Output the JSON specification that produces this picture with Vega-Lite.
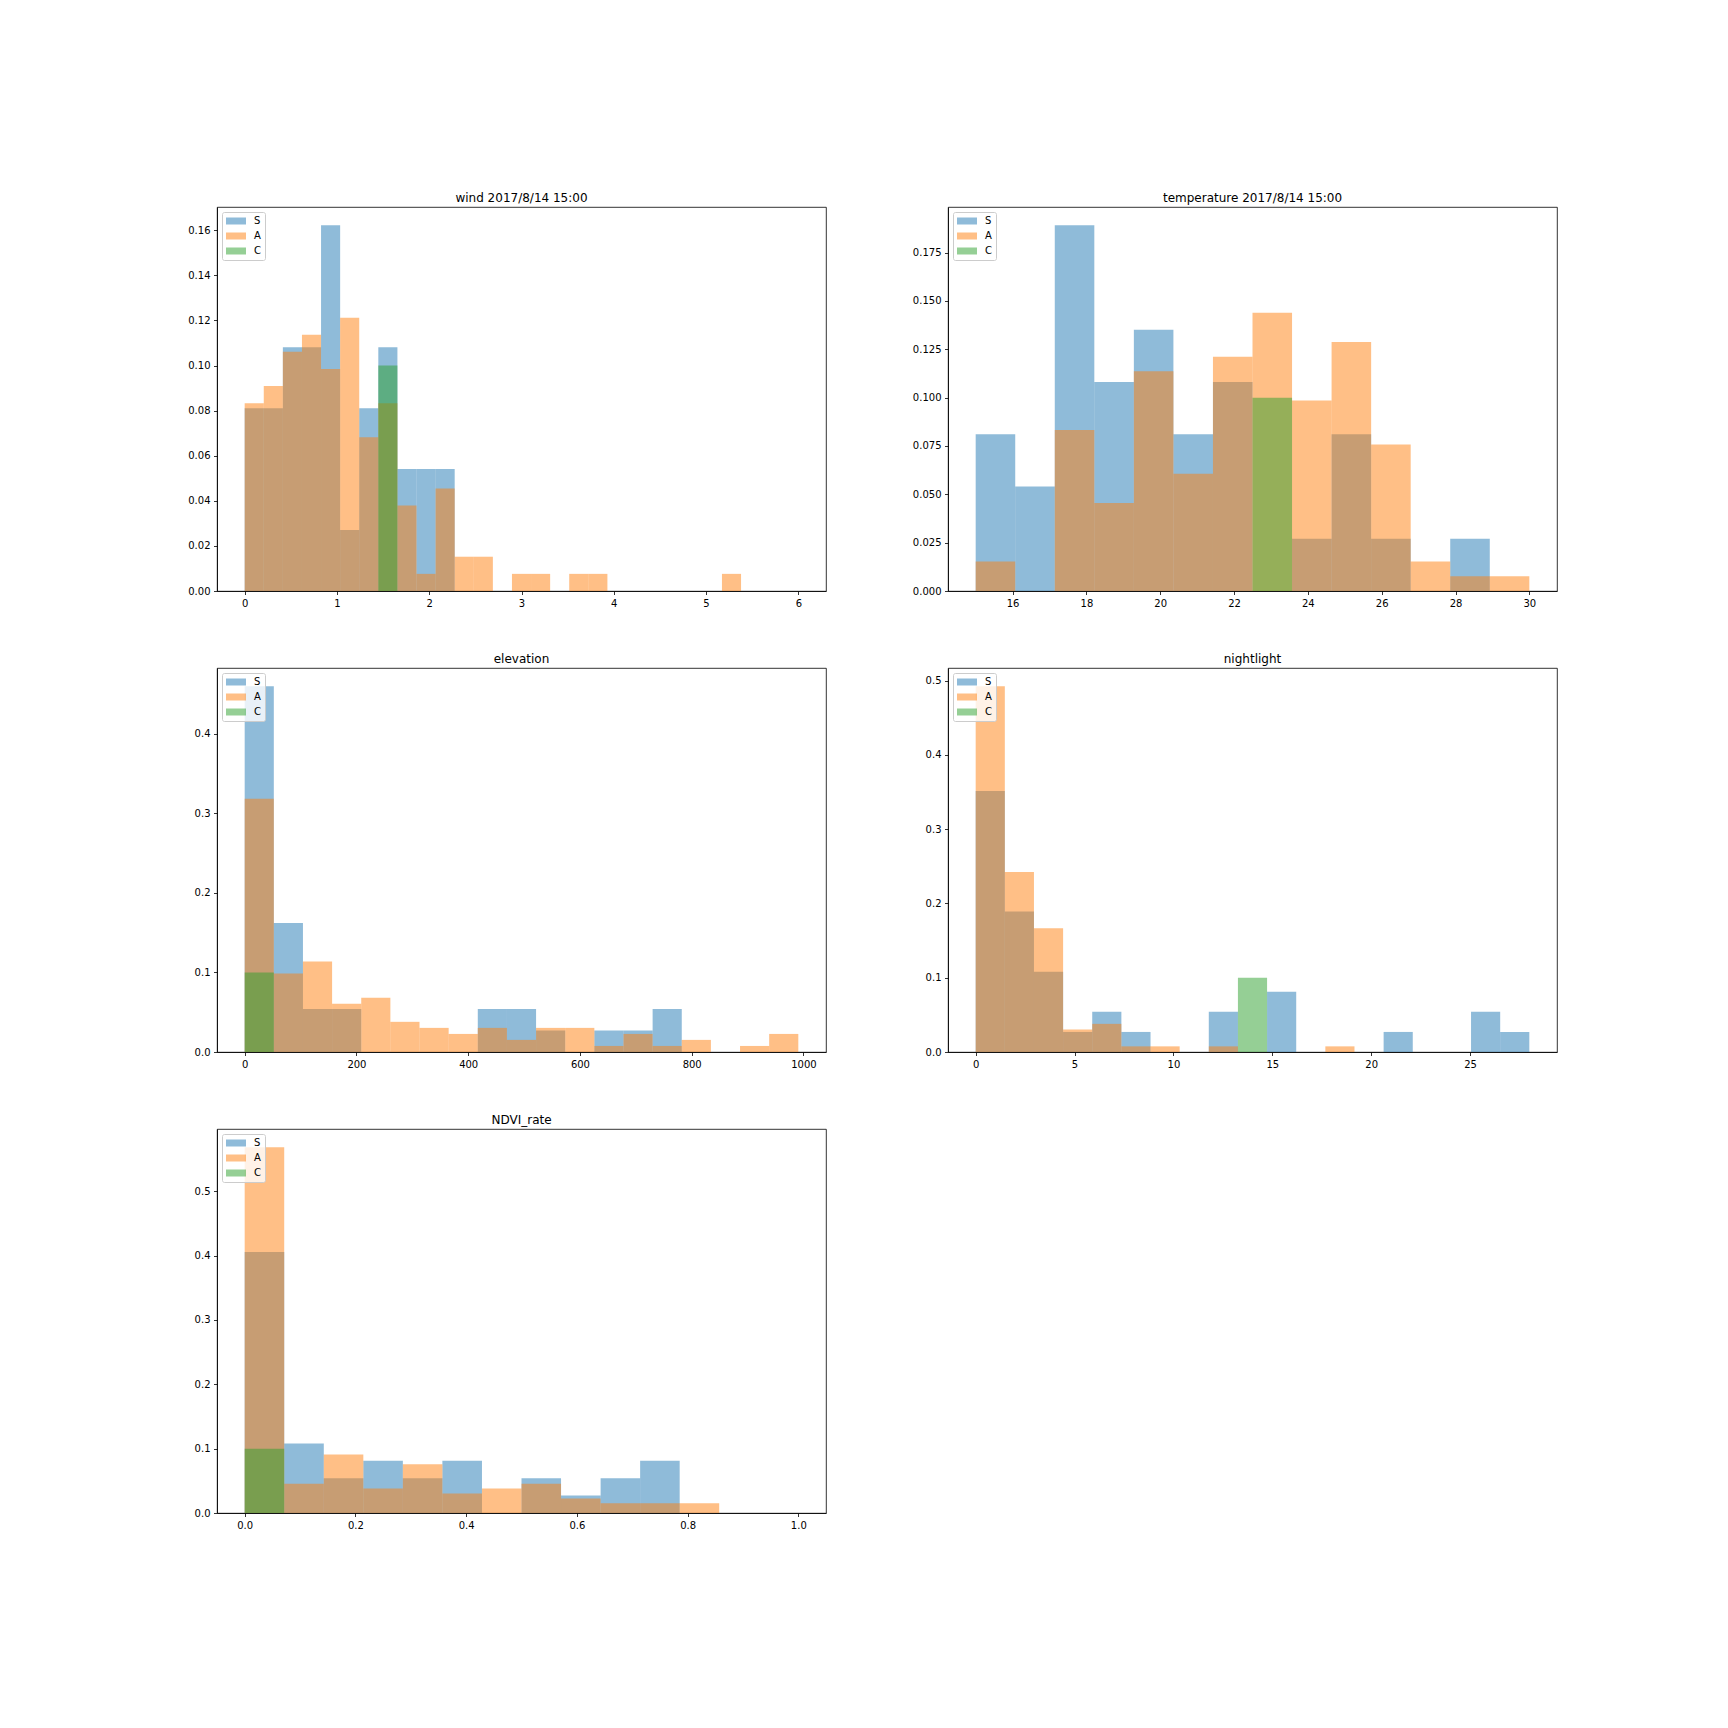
{
  "$schema": "https://vega.github.io/schema/vega-lite/v6.json",
  "background": "white",
  "padding": {"left": 187, "top": 191, "right": 0, "bottom": 0},
  "datasets": {
    "hist": [
      {"panel": "wind", "series": "S", "x0": 0, "x1": 0.2069, "h": 0.0811},
      {"panel": "wind", "series": "S", "x0": 0.2069, "x1": 0.4138, "h": 0.0811},
      {"panel": "wind", "series": "S", "x0": 0.4138, "x1": 0.6207, "h": 0.1081},
      {"panel": "wind", "series": "S", "x0": 0.6207, "x1": 0.8276, "h": 0.1081},
      {"panel": "wind", "series": "S", "x0": 0.8276, "x1": 1.0345, "h": 0.1622},
      {"panel": "wind", "series": "S", "x0": 1.0345, "x1": 1.2414, "h": 0.027},
      {"panel": "wind", "series": "S", "x0": 1.2414, "x1": 1.4483, "h": 0.0811},
      {"panel": "wind", "series": "S", "x0": 1.4483, "x1": 1.6552, "h": 0.1081},
      {"panel": "wind", "series": "S", "x0": 1.6552, "x1": 1.8621, "h": 0.0541},
      {"panel": "wind", "series": "S", "x0": 1.8621, "x1": 2.069, "h": 0.0541},
      {"panel": "wind", "series": "S", "x0": 2.069, "x1": 2.2759, "h": 0.0541},
      {"panel": "wind", "series": "A", "x0": 0, "x1": 0.2069, "h": 0.0833},
      {"panel": "wind", "series": "A", "x0": 0.2069, "x1": 0.4138, "h": 0.0909},
      {"panel": "wind", "series": "A", "x0": 0.4138, "x1": 0.6207, "h": 0.1061},
      {"panel": "wind", "series": "A", "x0": 0.6207, "x1": 0.8276, "h": 0.1136},
      {"panel": "wind", "series": "A", "x0": 0.8276, "x1": 1.0345, "h": 0.0985},
      {"panel": "wind", "series": "A", "x0": 1.0345, "x1": 1.2414, "h": 0.1212},
      {"panel": "wind", "series": "A", "x0": 1.2414, "x1": 1.4483, "h": 0.0682},
      {"panel": "wind", "series": "A", "x0": 1.4483, "x1": 1.6552, "h": 0.0833},
      {"panel": "wind", "series": "A", "x0": 1.6552, "x1": 1.8621, "h": 0.0379},
      {"panel": "wind", "series": "A", "x0": 1.8621, "x1": 2.069, "h": 0.0076},
      {"panel": "wind", "series": "A", "x0": 2.069, "x1": 2.2759, "h": 0.0455},
      {"panel": "wind", "series": "A", "x0": 2.2759, "x1": 2.4828, "h": 0.0152},
      {"panel": "wind", "series": "A", "x0": 2.4828, "x1": 2.6897, "h": 0.0152},
      {"panel": "wind", "series": "A", "x0": 2.8966, "x1": 3.1034, "h": 0.0076},
      {"panel": "wind", "series": "A", "x0": 3.1034, "x1": 3.3103, "h": 0.0076},
      {"panel": "wind", "series": "A", "x0": 3.5172, "x1": 3.7241, "h": 0.0076},
      {"panel": "wind", "series": "A", "x0": 3.7241, "x1": 3.931, "h": 0.0076},
      {"panel": "wind", "series": "A", "x0": 5.1724, "x1": 5.3793, "h": 0.0076},
      {"panel": "wind", "series": "C", "x0": 1.4483, "x1": 1.6552, "h": 0.1},

      {"panel": "temp", "series": "S", "x0": 15, "x1": 16.0714, "h": 0.0811},
      {"panel": "temp", "series": "S", "x0": 16.0714, "x1": 17.1429, "h": 0.0541},
      {"panel": "temp", "series": "S", "x0": 17.1429, "x1": 18.2143, "h": 0.1892},
      {"panel": "temp", "series": "S", "x0": 18.2143, "x1": 19.2857, "h": 0.1081},
      {"panel": "temp", "series": "S", "x0": 19.2857, "x1": 20.3571, "h": 0.1351},
      {"panel": "temp", "series": "S", "x0": 20.3571, "x1": 21.4286, "h": 0.0811},
      {"panel": "temp", "series": "S", "x0": 21.4286, "x1": 22.5, "h": 0.1081},
      {"panel": "temp", "series": "S", "x0": 23.5714, "x1": 24.6429, "h": 0.027},
      {"panel": "temp", "series": "S", "x0": 24.6429, "x1": 25.7143, "h": 0.0811},
      {"panel": "temp", "series": "S", "x0": 25.7143, "x1": 26.7857, "h": 0.027},
      {"panel": "temp", "series": "S", "x0": 27.8571, "x1": 28.9286, "h": 0.027},
      {"panel": "temp", "series": "A", "x0": 15, "x1": 16.0714, "h": 0.0152},
      {"panel": "temp", "series": "A", "x0": 17.1429, "x1": 18.2143, "h": 0.0833},
      {"panel": "temp", "series": "A", "x0": 18.2143, "x1": 19.2857, "h": 0.0455},
      {"panel": "temp", "series": "A", "x0": 19.2857, "x1": 20.3571, "h": 0.1136},
      {"panel": "temp", "series": "A", "x0": 20.3571, "x1": 21.4286, "h": 0.0606},
      {"panel": "temp", "series": "A", "x0": 21.4286, "x1": 22.5, "h": 0.1212},
      {"panel": "temp", "series": "A", "x0": 22.5, "x1": 23.5714, "h": 0.1439},
      {"panel": "temp", "series": "A", "x0": 23.5714, "x1": 24.6429, "h": 0.0985},
      {"panel": "temp", "series": "A", "x0": 24.6429, "x1": 25.7143, "h": 0.1288},
      {"panel": "temp", "series": "A", "x0": 25.7143, "x1": 26.7857, "h": 0.0758},
      {"panel": "temp", "series": "A", "x0": 26.7857, "x1": 27.8571, "h": 0.0152},
      {"panel": "temp", "series": "A", "x0": 27.8571, "x1": 28.9286, "h": 0.0076},
      {"panel": "temp", "series": "A", "x0": 28.9286, "x1": 30, "h": 0.0076},
      {"panel": "temp", "series": "C", "x0": 22.5, "x1": 23.5714, "h": 0.1},

      {"panel": "elev", "series": "S", "x0": 0, "x1": 52.15, "h": 0.4595},
      {"panel": "elev", "series": "S", "x0": 52.15, "x1": 104.3, "h": 0.1622},
      {"panel": "elev", "series": "S", "x0": 104.3, "x1": 156.45, "h": 0.0541},
      {"panel": "elev", "series": "S", "x0": 156.45, "x1": 208.6, "h": 0.0541},
      {"panel": "elev", "series": "S", "x0": 417.2, "x1": 469.35, "h": 0.0541},
      {"panel": "elev", "series": "S", "x0": 469.35, "x1": 521.5, "h": 0.0541},
      {"panel": "elev", "series": "S", "x0": 521.5, "x1": 573.65, "h": 0.027},
      {"panel": "elev", "series": "S", "x0": 625.8, "x1": 677.95, "h": 0.027},
      {"panel": "elev", "series": "S", "x0": 677.95, "x1": 730.1, "h": 0.027},
      {"panel": "elev", "series": "S", "x0": 730.1, "x1": 782.25, "h": 0.0541},
      {"panel": "elev", "series": "A", "x0": 0, "x1": 52.15, "h": 0.3182},
      {"panel": "elev", "series": "A", "x0": 52.15, "x1": 104.3, "h": 0.0985},
      {"panel": "elev", "series": "A", "x0": 104.3, "x1": 156.45, "h": 0.1136},
      {"panel": "elev", "series": "A", "x0": 156.45, "x1": 208.6, "h": 0.0606},
      {"panel": "elev", "series": "A", "x0": 208.6, "x1": 260.75, "h": 0.0682},
      {"panel": "elev", "series": "A", "x0": 260.75, "x1": 312.9, "h": 0.0379},
      {"panel": "elev", "series": "A", "x0": 312.9, "x1": 365.05, "h": 0.0303},
      {"panel": "elev", "series": "A", "x0": 365.05, "x1": 417.2, "h": 0.0227},
      {"panel": "elev", "series": "A", "x0": 417.2, "x1": 469.35, "h": 0.0303},
      {"panel": "elev", "series": "A", "x0": 469.35, "x1": 521.5, "h": 0.0152},
      {"panel": "elev", "series": "A", "x0": 521.5, "x1": 573.65, "h": 0.0303},
      {"panel": "elev", "series": "A", "x0": 573.65, "x1": 625.8, "h": 0.0303},
      {"panel": "elev", "series": "A", "x0": 625.8, "x1": 677.95, "h": 0.0076},
      {"panel": "elev", "series": "A", "x0": 677.95, "x1": 730.1, "h": 0.0227},
      {"panel": "elev", "series": "A", "x0": 730.1, "x1": 782.25, "h": 0.0076},
      {"panel": "elev", "series": "A", "x0": 782.25, "x1": 834.4, "h": 0.0152},
      {"panel": "elev", "series": "A", "x0": 886.55, "x1": 938.7, "h": 0.0076},
      {"panel": "elev", "series": "A", "x0": 938.7, "x1": 990.85, "h": 0.0227},
      {"panel": "elev", "series": "C", "x0": 0, "x1": 52.15, "h": 0.1},

      {"panel": "night", "series": "S", "x0": 0, "x1": 1.4737, "h": 0.3514},
      {"panel": "night", "series": "S", "x0": 1.4737, "x1": 2.9474, "h": 0.1892},
      {"panel": "night", "series": "S", "x0": 2.9474, "x1": 4.4211, "h": 0.1081},
      {"panel": "night", "series": "S", "x0": 4.4211, "x1": 5.8947, "h": 0.027},
      {"panel": "night", "series": "S", "x0": 5.8947, "x1": 7.3684, "h": 0.0541},
      {"panel": "night", "series": "S", "x0": 7.3684, "x1": 8.8421, "h": 0.027},
      {"panel": "night", "series": "S", "x0": 11.7895, "x1": 13.2632, "h": 0.0541},
      {"panel": "night", "series": "S", "x0": 14.7368, "x1": 16.2105, "h": 0.0811},
      {"panel": "night", "series": "S", "x0": 20.6316, "x1": 22.1053, "h": 0.027},
      {"panel": "night", "series": "S", "x0": 25.0526, "x1": 26.5263, "h": 0.0541},
      {"panel": "night", "series": "S", "x0": 26.5263, "x1": 28, "h": 0.027},
      {"panel": "night", "series": "A", "x0": 0, "x1": 1.4737, "h": 0.4924},
      {"panel": "night", "series": "A", "x0": 1.4737, "x1": 2.9474, "h": 0.2424},
      {"panel": "night", "series": "A", "x0": 2.9474, "x1": 4.4211, "h": 0.1667},
      {"panel": "night", "series": "A", "x0": 4.4211, "x1": 5.8947, "h": 0.0303},
      {"panel": "night", "series": "A", "x0": 5.8947, "x1": 7.3684, "h": 0.0379},
      {"panel": "night", "series": "A", "x0": 7.3684, "x1": 8.8421, "h": 0.0076},
      {"panel": "night", "series": "A", "x0": 8.8421, "x1": 10.3158, "h": 0.0076},
      {"panel": "night", "series": "A", "x0": 11.7895, "x1": 13.2632, "h": 0.0076},
      {"panel": "night", "series": "A", "x0": 17.6842, "x1": 19.1579, "h": 0.0076},
      {"panel": "night", "series": "C", "x0": 13.2632, "x1": 14.7368, "h": 0.1},

      {"panel": "ndvi", "series": "S", "x0": 0, "x1": 0.0714, "h": 0.4054},
      {"panel": "ndvi", "series": "S", "x0": 0.0714, "x1": 0.1429, "h": 0.1081},
      {"panel": "ndvi", "series": "S", "x0": 0.1429, "x1": 0.2143, "h": 0.0541},
      {"panel": "ndvi", "series": "S", "x0": 0.2143, "x1": 0.2857, "h": 0.0811},
      {"panel": "ndvi", "series": "S", "x0": 0.2857, "x1": 0.3571, "h": 0.0541},
      {"panel": "ndvi", "series": "S", "x0": 0.3571, "x1": 0.4286, "h": 0.0811},
      {"panel": "ndvi", "series": "S", "x0": 0.5, "x1": 0.5714, "h": 0.0541},
      {"panel": "ndvi", "series": "S", "x0": 0.5714, "x1": 0.6429, "h": 0.027},
      {"panel": "ndvi", "series": "S", "x0": 0.6429, "x1": 0.7143, "h": 0.0541},
      {"panel": "ndvi", "series": "S", "x0": 0.7143, "x1": 0.7857, "h": 0.0811},
      {"panel": "ndvi", "series": "A", "x0": 0, "x1": 0.0714, "h": 0.5682},
      {"panel": "ndvi", "series": "A", "x0": 0.0714, "x1": 0.1429, "h": 0.0455},
      {"panel": "ndvi", "series": "A", "x0": 0.1429, "x1": 0.2143, "h": 0.0909},
      {"panel": "ndvi", "series": "A", "x0": 0.2143, "x1": 0.2857, "h": 0.0379},
      {"panel": "ndvi", "series": "A", "x0": 0.2857, "x1": 0.3571, "h": 0.0758},
      {"panel": "ndvi", "series": "A", "x0": 0.3571, "x1": 0.4286, "h": 0.0303},
      {"panel": "ndvi", "series": "A", "x0": 0.4286, "x1": 0.5, "h": 0.0379},
      {"panel": "ndvi", "series": "A", "x0": 0.5, "x1": 0.5714, "h": 0.0455},
      {"panel": "ndvi", "series": "A", "x0": 0.5714, "x1": 0.6429, "h": 0.0227},
      {"panel": "ndvi", "series": "A", "x0": 0.6429, "x1": 0.7143, "h": 0.0152},
      {"panel": "ndvi", "series": "A", "x0": 0.7143, "x1": 0.7857, "h": 0.0152},
      {"panel": "ndvi", "series": "A", "x0": 0.7857, "x1": 0.8571, "h": 0.0152},
      {"panel": "ndvi", "series": "C", "x0": 0, "x1": 0.0714, "h": 0.1}
    ]
  },
  "columns": 2,
  "bounds": "flush",
  "spacing": {"row": 77, "column": 122},
  "concat": [
    {
      "title": "wind 2017/8/14 15:00",
      "width": 609, "height": 384,
      "data": {"name": "hist"},
      "transform": [{"filter": "datum.panel == 'wind'"}],
      "mark": {"type": "bar", "opacity": 0.5},
      "encoding": {
        "x": {"field": "x0", "type": "quantitative", "scale": {"domain": [-0.3, 6.3], "nice": false, "zero": false},
              "axis": {"values": [0, 1, 2, 3, 4, 5, 6], "format": "d"}},
        "x2": {"field": "x1"},
        "y": {"field": "h", "type": "quantitative", "stack": null, "scale": {"domain": [0, 0.1703], "nice": false},
              "axis": {"values": [0, 0.02, 0.04, 0.06, 0.08, 0.1, 0.12, 0.14, 0.16], "format": ".2f"}},
        "y2": {"datum": 0},
        "color": {"field": "series", "type": "nominal", "scale": {"domain": ["S", "A", "C"], "range": ["#1f77b4", "#ff7f0e", "#2ca02c"]}}
      }
    },
    {
      "title": "temperature 2017/8/14 15:00",
      "width": 609, "height": 384,
      "data": {"name": "hist"},
      "transform": [{"filter": "datum.panel == 'temp'"}],
      "mark": {"type": "bar", "opacity": 0.5},
      "encoding": {
        "x": {"field": "x0", "type": "quantitative", "scale": {"domain": [14.25, 30.75], "nice": false, "zero": false},
              "axis": {"values": [16, 18, 20, 22, 24, 26, 28, 30], "format": "d"}},
        "x2": {"field": "x1"},
        "y": {"field": "h", "type": "quantitative", "stack": null, "scale": {"domain": [0, 0.1986], "nice": false},
              "axis": {"values": [0, 0.025, 0.05, 0.075, 0.1, 0.125, 0.15, 0.175], "format": ".3f"}},
        "y2": {"datum": 0},
        "color": {"field": "series", "type": "nominal", "scale": {"domain": ["S", "A", "C"], "range": ["#1f77b4", "#ff7f0e", "#2ca02c"]}}
      }
    },
    {
      "title": "elevation",
      "width": 609, "height": 384,
      "data": {"name": "hist"},
      "transform": [{"filter": "datum.panel == 'elev'"}],
      "mark": {"type": "bar", "opacity": 0.5},
      "encoding": {
        "x": {"field": "x0", "type": "quantitative", "scale": {"domain": [-49.54, 1040.4], "nice": false, "zero": false},
              "axis": {"values": [0, 200, 400, 600, 800, 1000], "format": "d"}},
        "x2": {"field": "x1"},
        "y": {"field": "h", "type": "quantitative", "stack": null, "scale": {"domain": [0, 0.4824], "nice": false},
              "axis": {"values": [0, 0.1, 0.2, 0.3, 0.4], "format": ".1f"}},
        "y2": {"datum": 0},
        "color": {"field": "series", "type": "nominal", "scale": {"domain": ["S", "A", "C"], "range": ["#1f77b4", "#ff7f0e", "#2ca02c"]}}
      }
    },
    {
      "title": "nightlight",
      "width": 609, "height": 384,
      "data": {"name": "hist"},
      "transform": [{"filter": "datum.panel == 'night'"}],
      "mark": {"type": "bar", "opacity": 0.5},
      "encoding": {
        "x": {"field": "x0", "type": "quantitative", "scale": {"domain": [-1.4, 29.4], "nice": false, "zero": false},
              "axis": {"values": [0, 5, 10, 15, 20, 25], "format": "d"}},
        "x2": {"field": "x1"},
        "y": {"field": "h", "type": "quantitative", "stack": null, "scale": {"domain": [0, 0.517], "nice": false},
              "axis": {"values": [0, 0.1, 0.2, 0.3, 0.4, 0.5], "format": ".1f"}},
        "y2": {"datum": 0},
        "color": {"field": "series", "type": "nominal", "scale": {"domain": ["S", "A", "C"], "range": ["#1f77b4", "#ff7f0e", "#2ca02c"]}}
      }
    },
    {
      "title": "NDVI_rate",
      "width": 609, "height": 384,
      "data": {"name": "hist"},
      "transform": [{"filter": "datum.panel == 'ndvi'"}],
      "mark": {"type": "bar", "opacity": 0.5},
      "encoding": {
        "x": {"field": "x0", "type": "quantitative", "scale": {"domain": [-0.05, 1.05], "nice": false, "zero": false},
              "axis": {"values": [0, 0.2, 0.4, 0.6, 0.8, 1.0], "format": ".1f"}},
        "x2": {"field": "x1"},
        "y": {"field": "h", "type": "quantitative", "stack": null, "scale": {"domain": [0, 0.5966], "nice": false},
              "axis": {"values": [0, 0.1, 0.2, 0.3, 0.4, 0.5], "format": ".1f"}},
        "y2": {"datum": 0},
        "color": {"field": "series", "type": "nominal", "scale": {"domain": ["S", "A", "C"], "range": ["#1f77b4", "#ff7f0e", "#2ca02c"]}}
      }
    }
  ],
  "resolve": {
    "scale": {"color": "independent"},
    "legend": {"color": "independent"}
  },
  "config": {
    "font": "DejaVu Sans",
    "view": {"stroke": "black", "strokeWidth": 0.8},
    "title": {"font": "DejaVu Sans", "fontSize": 12, "fontWeight": "normal", "color": "black", "offset": 2, "baseline": "alphabetic", "anchor": "middle"},
    "axis": {
      "title": null,
      "grid": false,
      "domain": true,
      "domainColor": "black",
      "domainWidth": 0.8,
      "ticks": true,
      "tickSize": 3.5,
      "tickWidth": 0.8,
      "tickColor": "black",
      "labelFont": "DejaVu Sans",
      "labelFontSize": 10,
      "labelColor": "black",
      "labelPadding": 3.5,
      "labelFlush": false,
      "labelOverlap": false,
      "zindex": 1
    },
    "legend": {
      "orient": "top-left",
      "offset": 5,
      "title": null,
      "symbolType": "M-1,-0.7H3V0.7H-1Z",
      "symbolSize": 100,
      "symbolOpacity": 0.5,
      "symbolStrokeWidth": 0,
      "labelOffset": 18,
      "labelFont": "DejaVu Sans",
      "labelFontSize": 10,
      "labelColor": "black",
      "padding": 4,
      "rowPadding": 5,
      "fillColor": "rgba(255,255,255,0.8)",
      "strokeColor": "#cccccc",
      "cornerRadius": 2
    }
  }
}
